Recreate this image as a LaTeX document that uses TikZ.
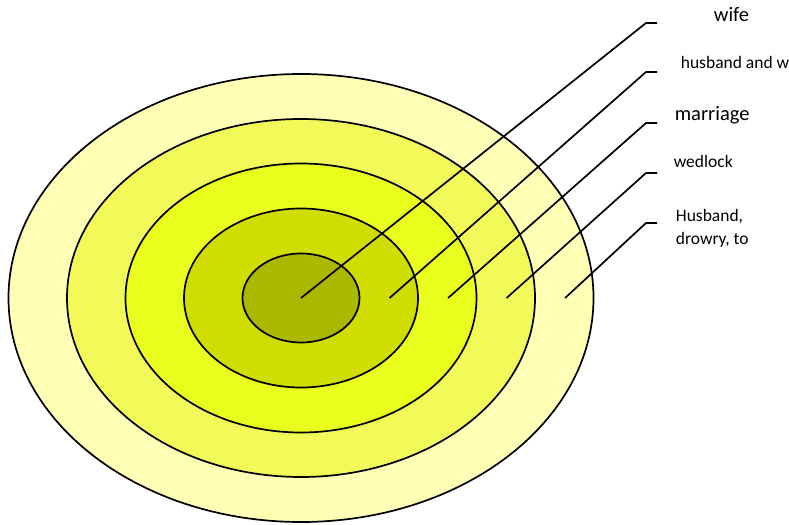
\documentclass[tikz,border=0pt]{standalone}
\usepackage{fontspec}
\setmainfont{Carlito}
\usetikzlibrary{shapes.geometric, calc}
\definecolor{ringa}{RGB}{170,185,0}
\definecolor{ringb}{RGB}{208,221,0}
\definecolor{ringc}{RGB}{232,255,30}
\definecolor{ringd}{RGB}{242,250,90}
\definecolor{ringe}{RGB}{255,255,182}

\begin{document}
\begin{tikzpicture}[x=1bp, y=-1bp, line width=1.7bp,
    bigtxt/.style={anchor=base west, inner sep=0pt, font=\fontsize{20.5bp}{23bp}\selectfont},
    smalltxt/.style={anchor=base west, inner sep=0pt, align=left, font=\fontsize{17.5bp}{23bp}\selectfont}]
        \useasboundingbox (0,0) rectangle (789,525);
        % rings, outermost first
        \foreach \i/\rx/\ry/\col in {5/292.5/224/ringe,4/234/179/ringd,3/175.5/134.5/ringc,2/117/89.5/ringb,1/58.5/44.5/ringa}
        {
            \node[ellipse, draw, line width=1.7bp, fill=\col, inner sep=0pt, minimum width=2*\rx bp,
                  minimum height=2*\ry bp] (r\i) at (301,298) {};
        }
        % start points in the middle of each ring
        \coordinate (s1) at (r1.center);
        \foreach \i [remember=\i as \last (initially 1)] in {2,...,5}
            \coordinate (s\i) at ($(r\last.east)!0.5!(r\i.east)$);
        % leader lines
        \foreach \i/\y in {1/23,2/72,3/123,4/173,5/223}
        {
            \coordinate (b\i) at (646,\y);
            \coordinate (t\i) at (657,\y);
            \draw (s\i) -- (b\i) -- (t\i);
        }
        % labels
        \node[bigtxt] (wife) at (713,22) {wife};
        \node[smalltxt] (hw) at (680,69) {husband and wife};
        \node[bigtxt] (marriage) at (674,121) {marriage};
        \node[smalltxt] (wedlock) at (673,168) {wedlock};
        \node[smalltxt] (husband) at (675,245) {Husband,\\drowry, to};
    \end{tikzpicture}
\end{document}
